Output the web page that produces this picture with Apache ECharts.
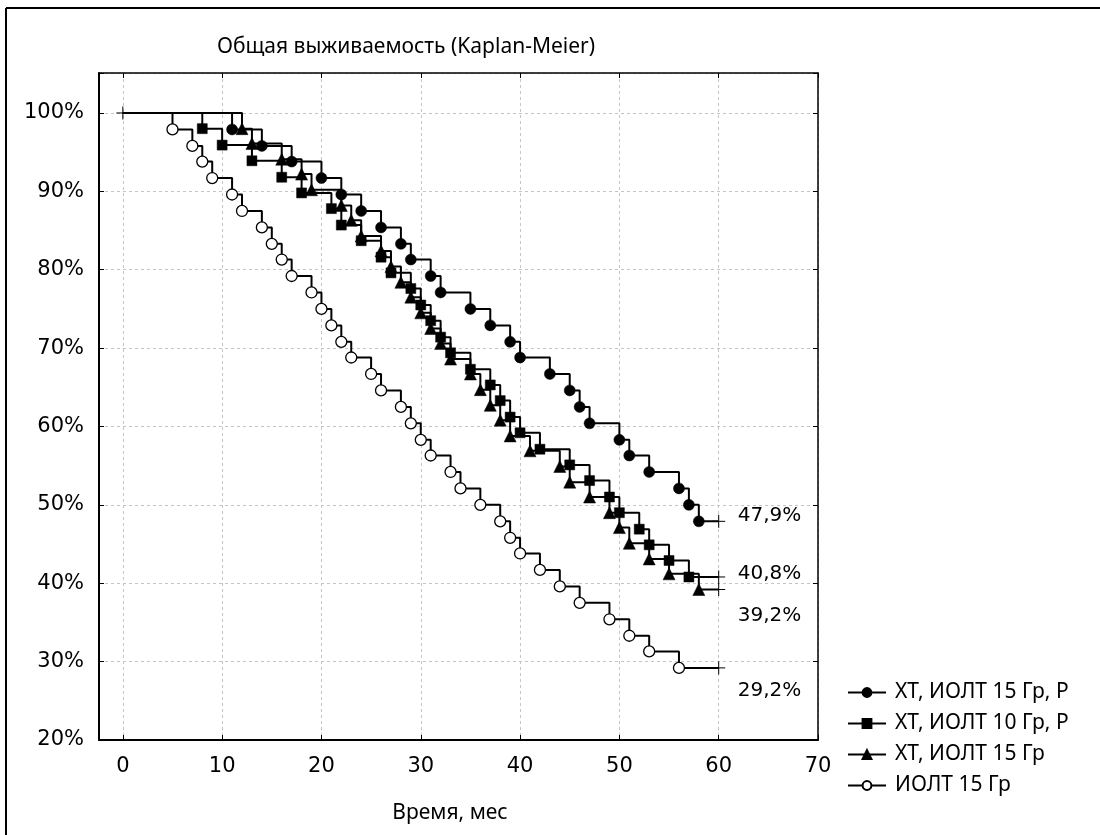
<!DOCTYPE html>
<html>
<head>
<meta charset="utf-8">
<title>Общая выживаемость (Kaplan-Meier)</title>
<script src="https://cdn.jsdelivr.net/npm/echarts@6/dist/echarts.min.js"></script>
<style>
  html, body { margin: 0; padding: 0; background: #fff; }
  #chart { width: 1100px; height: 835px; }
</style>
</head>
<body>
<div id="chart"></div>
<script>
// группы (как в легенде)
var groupNames = ['ХТ, ИОЛТ 15 Гр, Р', 'ХТ, ИОЛТ 10 Гр, Р', 'ХТ, ИОЛТ 15 Гр', 'ИОЛТ 15 Гр']

// моменты событий (мес) и выживаемость (%) после каждого события
var timesXt15r = [11, 14, 17, 20, 22, 24, 26, 28, 29, 31, 32, 35, 37, 39, 40, 43, 45, 46, 47, 50, 51, 53, 56, 57, 58]
var survXt15r = [97.9, 95.8, 93.8, 91.7, 89.6, 87.5, 85.4, 83.3, 81.3, 79.2, 77.1, 75.0, 72.9, 70.8, 68.8, 66.7, 64.6, 62.5, 60.4, 58.3, 56.3, 54.2, 52.1, 50.0, 47.9]

var timesXt10r = [8, 10, 13, 16, 18, 21, 22, 24, 26, 27, 29, 30, 31, 32, 33, 35, 37, 38, 39, 40, 42, 45, 47, 49, 50, 52, 53, 55, 57]
var survXt10r = [98.0, 95.9, 93.9, 91.8, 89.8, 87.8, 85.7, 83.7, 81.6, 79.6, 77.6, 75.5, 73.5, 71.4, 69.4, 67.3, 65.3, 63.3, 61.2, 59.2, 57.1, 55.1, 53.1, 51.0, 49.0, 46.9, 44.9, 42.9, 40.8]

var timesXt15 = [12, 13, 16, 18, 19, 22, 23, 24, 26, 27, 28, 29, 30, 31, 32, 33, 35, 36, 37, 38, 39, 41, 44, 45, 47, 49, 50, 51, 53, 55, 58]
var survXt15 = [98.0, 96.1, 94.1, 92.2, 90.2, 88.2, 86.3, 84.3, 82.4, 80.4, 78.4, 76.5, 74.5, 72.5, 70.6, 68.6, 66.7, 64.7, 62.7, 60.8, 58.8, 56.9, 54.9, 52.9, 51.0, 49.0, 47.1, 45.1, 43.1, 41.2, 39.2]

var timesIolt15 = [5, 7, 8, 9, 11, 12, 14, 15, 16, 17, 19, 20, 21, 22, 23, 25, 26, 28, 29, 30, 31, 33, 34, 36, 38, 39, 40, 42, 44, 46, 49, 51, 53, 56]
var survIolt15 = [97.9, 95.8, 93.8, 91.7, 89.6, 87.5, 85.4, 83.3, 81.3, 79.2, 77.1, 75.0, 72.9, 70.8, 68.8, 66.7, 64.6, 62.5, 60.4, 58.3, 56.3, 54.2, 52.1, 50.0, 47.9, 45.8, 43.8, 41.7, 39.6, 37.5, 35.4, 33.3, 31.3, 29.2]

// цензурированные наблюдения в конце наблюдения
var censorTime = 60
var censorSurv = [47.9, 40.8, 39.2, 29.2]

var xTicks = [0, 10, 20, 30, 40, 50, 60, 70]
var yTicks = [20, 30, 40, 50, 60, 70, 80, 90, 100]

var allTimes = [timesXt15r, timesXt10r, timesXt15, timesIolt15]
var allSurv = [survXt15r, survXt10r, survXt15, survIolt15]
var symbols = ['circle', 'rect', 'triangle', 'circle']
var symbolSizes = [11, 10, 12, 11]
var fills = ['#000', '#000', '#000', '#fff']
var labelOffsets = [[0, -6], [0, -3], [0, 26], [0, 23]]

var txtFont = 'DejaVu Sans, Verdana, sans-serif'
var humFont = 'Noto Sans, Open Sans, sans-serif'

function buildSteps (times, surv) {
  var data = [{ value: [0, 100], symbol: 'none' }]
  times.forEach(function (t, i) {
    data.push({ value: [t, surv[i]] })
  })
  data.push({ value: [censorTime, surv[surv.length - 1]], symbol: 'none' })
  return data
}

var series = []
groupNames.forEach(function (name, i) {
  series.push({
    name: name,
    type: 'line',
    step: 'end',
    data: buildSteps(allTimes[i], allSurv[i]),
    symbol: symbols[i],
    symbolSize: symbolSizes[i],
    showAllSymbol: true,
    lineStyle: { color: '#000', width: 2 },
    itemStyle: { color: fills[i], borderColor: '#000', borderWidth: i === 3 ? 1.3 : 0.5, opacity: 1 },
    emphasis: { disabled: true },
    z: 3 + i
  })
})

var censorData = [{ value: [0, 100] }]
censorSurv.forEach(function (v, i) {
  censorData.push({
    value: [censorTime, v],
    label: {
      show: true,
      position: 'right',
      distance: 12,
      offset: labelOffsets[i],
      formatter: v.toFixed(1).replace('.', ',') + '%',
      fontSize: 20,
      color: '#000',
      opacity: 1,
      fontFamily: txtFont
    }
  })
})
series.push({
  name: 'censored',
  type: 'scatter',
  data: censorData,
  symbol: 'path://M5,0 L5,10 M0,5 L10,5',
  symbolSize: 13,
  itemStyle: { color: '#000', borderColor: '#000', borderWidth: 1, opacity: 1 },
  emphasis: { disabled: true },
  z: 10
})

function tickLabel (list, suffix) {
  return function (v) {
    return list.indexOf(Math.round(v * 1000) / 1000) >= 0 ? v + suffix : ''
  }
}

var grayGrid = { show: true, lineStyle: { color: '#c4c4c4', width: 1, type: [3, 3] } }

var myChart = echarts.init(document.getElementById('chart'), null, { renderer: 'canvas' })
var option = {
  animation: false,
  backgroundColor: '#fff',
  grid: { left: 99, right: 282, top: 73, bottom: 95 },
  legend: {
    data: groupNames,
    orient: 'vertical',
    left: 842,
    top: 677,
    itemWidth: 38,
    itemHeight: 11,
    itemGap: 10,
    textStyle: { fontSize: 21, lineHeight: 21, color: '#000', fontFamily: humFont, padding: [0, 0, 0, 4] },
    selectedMode: false
  },
  xAxis: [{
    type: 'value',
    min: -2.4,
    max: 70,
    splitNumber: 7,
    axisLine: { show: true, onZero: false, lineStyle: { color: '#000', width: 2 } },
    axisTick: { show: true, inside: true, length: 5, lineStyle: { color: '#000' } },
    axisLabel: { formatter: tickLabel(xTicks, ''), fontSize: 21, color: '#000', fontFamily: txtFont, margin: 16 },
    splitLine: grayGrid
  }, {
    type: 'value',
    position: 'top',
    min: -2.4,
    max: 70,
    splitNumber: 7,
    axisLine: { show: true, onZero: false, lineStyle: { color: '#000', width: 1.5 } },
    axisTick: { show: true, inside: true, length: 5, lineStyle: { color: '#000' } },
    axisLabel: { show: false },
    splitLine: { show: false }
  }],
  yAxis: [{
    type: 'value',
    min: 20,
    max: 105.1,
    interval: 10,
    axisLine: { show: true, onZero: false, lineStyle: { color: '#000', width: 2 } },
    axisTick: { show: true, inside: true, length: 5, lineStyle: { color: '#000' } },
    axisLabel: { formatter: tickLabel(yTicks, '%'), fontSize: 21, color: '#000', fontFamily: txtFont, margin: 15 },
    splitLine: grayGrid
  }, {
    type: 'value',
    position: 'right',
    min: 20,
    max: 105.1,
    interval: 10,
    axisLine: { show: true, onZero: false, lineStyle: { color: '#000', width: 1.5 } },
    axisTick: { show: true, inside: true, length: 5, lineStyle: { color: '#000' } },
    axisLabel: { show: false },
    splitLine: { show: false }
  }],
  graphic: [
    { type: 'line', shape: { x1: 6, y1: 8, x2: 1100, y2: 8 }, style: { stroke: '#000', lineWidth: 2 } },
    { type: 'line', shape: { x1: 6, y1: 8, x2: 6, y2: 835 }, style: { stroke: '#000', lineWidth: 2 } },
    {
      type: 'text', x: 406, y: 47,
      style: { text: 'Общая выживаемость (Kaplan-Meier)', fontSize: 21, fontFamily: humFont, fill: '#000', align: 'center', verticalAlign: 'middle' }
    },
    {
      type: 'text', x: 450, y: 813,
      style: { text: 'Время, мес', fontSize: 21, fontFamily: humFont, fill: '#000', align: 'center', verticalAlign: 'middle' }
    }
  ],
  series: series
}
myChart.setOption(option)
</script>
</body>
</html>
